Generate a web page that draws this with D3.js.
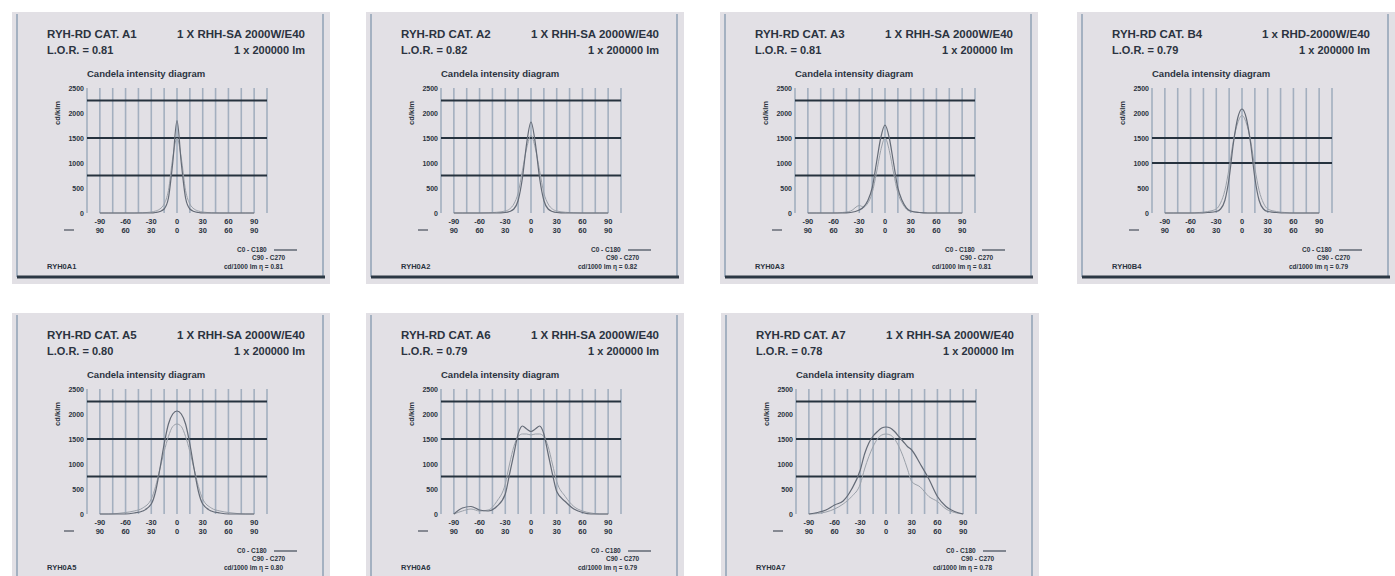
<!DOCTYPE html>
<html>
<head>
<meta charset="utf-8">
<script src="https://cdn.jsdelivr.net/npm/d3@7"></script>
<style>
  html, body { margin: 0; padding: 0; background: #ffffff; }
  svg { display: block; }
  text { font-family: "Liberation Sans", Arial, sans-serif; font-weight: bold; fill: #2b3340; }
</style>
</head>
<body>
<svg id="sheet" width="1395" height="576"></svg>
<script>
// Photometric data sheets: one candela intensity diagram per luminaire category.
const categories = ["RYH-RD CAT. A1", "RYH-RD CAT. A2", "RYH-RD CAT. A3", "RYH-RD CAT. B4",
                    "RYH-RD CAT. A5", "RYH-RD CAT. A6", "RYH-RD CAT. A7"];
const lampLabels = ["1 X RHH-SA 2000W/E40", "1 X RHH-SA 2000W/E40", "1 X RHH-SA 2000W/E40",
                    "1 x RHD-2000W/E40", "1 X RHH-SA 2000W/E40", "1 X RHH-SA 2000W/E40",
                    "1 X RHH-SA 2000W/E40"];
const lorValues = ["0.81", "0.82", "0.81", "0.79", "0.80", "0.79", "0.78"];
const fluxLabel = "1 x 200000 lm";
const sheetCodes = ["RYH0A1", "RYH0A2", "RYH0A3", "RYH0B4", "RYH0A5", "RYH0A6", "RYH0A7"];

// Angles (degrees) at which the intensities were measured
const angles = [-90, -80, -70, -60, -50, -40, -30, -25, -20, -15, -10, -5, 0,
                5, 10, 15, 20, 25, 30, 40, 50, 60, 70, 80, 90];

// Intensity in cd/klm, plane C0-C180
const c0Series = [
  [0,0,0,0,0,0,0,10,30,80,300,1000,1850,1000,300,80,30,10,0,0,0,0,0,0,0],
  [0,0,0,0,0,0,10,30,80,250,700,1400,1820,1400,700,250,80,30,10,0,0,0,0,0,0],
  [0,0,0,0,0,10,60,120,250,500,1000,1500,1760,1500,1000,500,250,100,40,10,0,0,0,0,0],
  [0,0,0,0,0,10,30,80,250,700,1400,1900,2080,1900,1400,700,250,80,30,10,0,0,0,0,0],
  [0,0,0,0,20,60,200,450,900,1400,1800,2000,2060,2000,1800,1400,900,450,200,60,20,0,0,0,0],
  [0,120,150,80,60,150,400,800,1200,1600,1760,1700,1650,1700,1760,1600,1200,800,450,250,100,30,0,0,0],
  [0,30,80,180,260,500,880,1200,1420,1560,1650,1720,1740,1720,1650,1550,1450,1350,1280,1000,700,350,150,50,0]
];

// Intensity in cd/klm, plane C90-C270
const c90Series = [
  [0,0,0,0,0,5,20,40,80,180,450,1100,1500,1100,450,180,80,40,20,5,0,0,0,0,0],
  [0,0,0,0,5,15,40,80,180,400,850,1300,1550,1300,850,400,180,80,40,15,5,0,0,0,0],
  [0,0,0,0,10,40,150,120,200,400,800,1250,1500,1250,800,400,200,80,30,10,0,0,0,0,0],
  [0,0,0,0,10,30,80,200,450,900,1450,1800,1950,1800,1450,900,450,200,80,30,10,0,0,0,0],
  [0,0,10,30,60,120,300,550,900,1250,1550,1750,1800,1750,1550,1250,900,550,300,120,60,30,10,0,0],
  [0,60,100,60,80,250,600,1000,1350,1550,1600,1600,1580,1600,1600,1550,1350,1000,650,350,150,60,20,0,0],
  [0,10,40,100,200,350,600,900,1150,1350,1500,1580,1600,1580,1500,1350,1150,900,650,540,350,250,100,30,0]
];

// Reference lines across each diagram (cd/klm)
const guideLines = [
  [750, 1500, 2250], [750, 1500, 2250], [750, 1500, 2250], [1000, 1500],
  [750, 1500, 2250], [750, 1500, 2250], [750, 1500, 2250]
];

const intensityTicks = [0, 500, 1000, 1500, 2000, 2500];
const angleTicksTop = ["-90", "-60", "-30", "0", "30", "60", "90"];
const angleTicksBottom = ["90", "60", "30", "0", "30", "60", "90"];
const angleTickValues = [-90, -60, -30, 0, 30, 60, 90];
const gridAngles = d3.range(-105, 106, 15);

// Sheet placement
const sheetOrigins = [[12, 12], [366, 12], [720, 12], [1077, 12],
                      [12, 313], [366, 313], [721, 313]];

const svg = d3.select("#sheet");

const x = d3.scaleLinear().domain([-105, 105]).range([75, 255]);
const y = d3.scaleLinear().domain([0, 2500]).range([201, 76]);

const line = d3.line()
  .x(d => x(d[0]))
  .y(d => y(d[1]))
  .curve(d3.curveMonotoneX);

categories.forEach((cat, i) => {
  const [ox, oy] = sheetOrigins[i];
  const g = svg.append("g").attr("transform", `translate(${ox},${oy})`);

  // sheet background and frame
  g.append("rect").attr("x", 0).attr("y", 0).attr("width", 318).attr("height", 272)
    .attr("fill", "#e2e0e5");
  g.append("line").attr("x1", 5).attr("x2", 5).attr("y1", 2).attr("y2", 265)
    .attr("stroke", "#a4b1c1").attr("stroke-width", 2);
  g.append("line").attr("x1", 311).attr("x2", 311).attr("y1", 2).attr("y2", 265)
    .attr("stroke", "#a4b1c1").attr("stroke-width", 2);
  g.append("line").attr("x1", 5).attr("x2", 313).attr("y1", 265).attr("y2", 265)
    .attr("stroke", "#2c3844").attr("stroke-width", 3);

  // header
  g.append("text").attr("x", 35).attr("y", 26).attr("font-size", 11.5).text(cat);
  g.append("text").attr("x", 293).attr("y", 26).attr("font-size", 11.5)
    .attr("text-anchor", "end").text(lampLabels[i]);
  g.append("text").attr("x", 35).attr("y", 42).attr("font-size", 11)
    .text("L.O.R. = " + lorValues[i]);
  g.append("text").attr("x", 293).attr("y", 42).attr("font-size", 11)
    .attr("text-anchor", "end").text(fluxLabel);

  // diagram title
  g.append("text").attr("x", 75).attr("y", 65).attr("font-size", 9.5)
    .text("Candela intensity diagram");

  // vertical grid
  g.append("g").selectAll("line").data(gridAngles).join("line")
    .attr("x1", d => x(d)).attr("x2", d => x(d))
    .attr("y1", y(2500)).attr("y2", y(0))
    .attr("stroke", "#a3afbf").attr("stroke-width", 1.6);

  // horizontal reference lines
  g.append("g").selectAll("line").data(guideLines[i]).join("line")
    .attr("x1", x(-105)).attr("x2", x(105))
    .attr("y1", d => y(d)).attr("y2", d => y(d))
    .attr("stroke", "#26323e").attr("stroke-width", 2);

  // intensity axis labels
  g.append("g").selectAll("text").data(intensityTicks).join("text")
    .attr("x", 72).attr("y", d => y(d) + 3)
    .attr("text-anchor", "end").attr("font-size", 7)
    .text(d => d);
  g.append("text")
    .attr("transform", `translate(48,${y(2000)}) rotate(-90)`)
    .attr("text-anchor", "middle").attr("font-size", 7.5)
    .text("cd/klm");

  // angle labels (two planes)
  g.append("g").selectAll("text").data(angleTickValues).join("text")
    .attr("x", d => x(d)).attr("y", 212)
    .attr("text-anchor", "middle").attr("font-size", 7.5)
    .text((d, k) => angleTicksTop[k]);
  g.append("g").selectAll("text").data(angleTickValues).join("text")
    .attr("x", d => x(d)).attr("y", 221)
    .attr("text-anchor", "middle").attr("font-size", 7.5)
    .text((d, k) => angleTicksBottom[k]);
  g.append("line").attr("x1", 52).attr("x2", 62).attr("y1", 218).attr("y2", 218)
    .attr("stroke", "#2b3340").attr("stroke-width", 1);

  // intensity curves
  const c90 = angles.map((a, k) => [a, c90Series[i][k]]);
  const c0 = angles.map((a, k) => [a, c0Series[i][k]]);
  g.append("path").attr("d", line(c90)).attr("fill", "none")
    .attr("stroke", "#9aa0a9").attr("stroke-width", 1);
  g.append("path").attr("d", line(c0)).attr("fill", "none")
    .attr("stroke", "#646b77").attr("stroke-width", 1.2);

  // legend
  const lg = g.append("g").attr("font-size", 6.5);
  lg.append("text").attr("x", 225).attr("y", 240).text("C0 - C180");
  lg.append("line").attr("x1", 262).attr("x2", 285).attr("y1", 238).attr("y2", 238)
    .attr("stroke", "#4d5562").attr("stroke-width", 1.3);
  lg.append("text").attr("x", 240).attr("y", 248).text("C90 - C270");
  lg.append("text").attr("x", 212).attr("y", 257).text("cd/1000 lm  \u03b7 = " + lorValues[i]);

  // sheet code
  g.append("text").attr("x", 35).attr("y", 257).attr("font-size", 7.5).text(sheetCodes[i]);
});
</script>
</body>
</html>
